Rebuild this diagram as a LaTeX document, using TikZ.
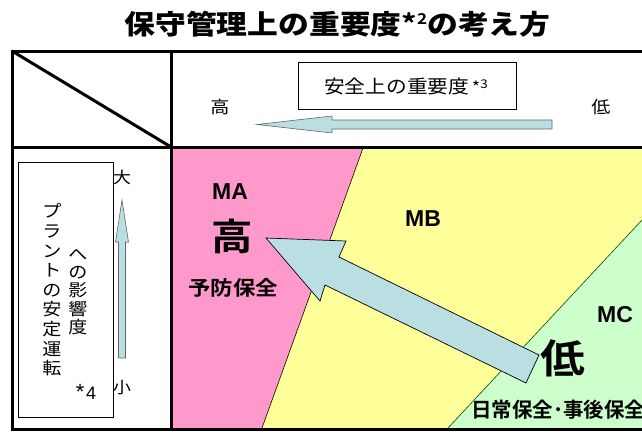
\documentclass[tikz,border=0pt]{standalone}
\usepackage{fontspec}
\setmainfont{Liberation Sans}
\newfontfamily\jp{Noto Sans CJK JP}[FakeStretch=1.12]
\newfontfamily\jpb{Noto Sans CJK JP Bold}[FakeStretch=1.12]
\newfontfamily\jpbn{Noto Sans CJK JP Bold}
\newfontfamily\jpt{Noto Sans CJK JP Black}[FakeStretch=1.14]
\definecolor{pinkfill}{HTML}{FF99CC}
\definecolor{yellowfill}{HTML}{FFFF99}
\definecolor{greenfill}{HTML}{CCFFCC}
\definecolor{arrowfill}{HTML}{B9DFE3}
\tikzset{
  frameline/.style={line width=3pt, line cap=rect},
  lbl/.style={inner sep=0pt, anchor=center},
  bluearrow/.style={fill=arrowfill, draw=gray!80!black, line width=0.6pt, line join=miter},
  bigarrow/.style={fill=arrowfill, draw=black, line width=0.7pt, line join=miter},
}
\begin{document}
\begin{tikzpicture}[x=1pt,y=-1pt]
\useasboundingbox (0,0) rectangle (642,431);
% regions
\fill[pinkfill] (172,148) -- (363,148) -- (262,428) -- (172,428) -- cycle;
\fill[yellowfill] (363,148) -- (642,148) -- (642,220) -- (448,428) -- (262,428) -- cycle;
\fill[greenfill] (642,220) -- (642,428) -- (448,428) -- cycle;
\draw[black, line width=0.6pt] (363,148) -- (262,428);
\draw[black!70!green, line width=0.6pt] (642,220) -- (448,428);
% table frame
\coordinate (tl) at (12,51);
\coordinate (tr) at (642,51);
\coordinate (ml) at (12,147);
\coordinate (mr) at (642,147);
\coordinate (bl) at (12,429);
\coordinate (br) at (642,429);
\coordinate (dt) at (171,51);
\coordinate (dm) at (171,147);
\coordinate (db) at (171,429);
\draw[frameline] (tr) -- (tl) -- (bl) -- (br);
\draw[frameline] (ml) -- (mr);
\draw[frameline] (dt) -- (db);
\draw[line width=3pt] (tl) -- (dm);
% title
\node[lbl] (title) at (337.5,24) {\jpt\fontsize{27}{27}\selectfont 保守管理上の重要度{\bfseries *}\raisebox{0.35em}{\bfseries\fontsize{15}{15}\selectfont 2}の考え方};
% header
\node[draw=black, line width=0.8pt, minimum width=218pt, minimum height=47pt, inner sep=0pt] (hdrbox) at (407,85.5) {};
\node[lbl] (hdr) at (406,86) {\jp\fontsize{18.5}{18.5}\selectfont 安全上の重要度\fontsize{16}{16}\selectfont\,*\raisebox{0.3em}{\fontsize{12}{12}\selectfont 3}};
\node[lbl] (hi) at (220,107) {\jp\fontsize{17}{17}\selectfont 高};
\node[lbl] (lo) at (601,107) {\jp\fontsize{17}{17}\selectfont 低};
\draw[bluearrow] (257,124.5) -- (332,116) -- (332,120) -- (552,120) -- (552,129) -- (332,129) -- (332,133) -- cycle;
% left panel
\node[draw=black, line width=0.7pt, minimum width=95pt, minimum height=255pt, inner sep=0pt] (lbox) at (65.5,289.5) {};
\node[lbl, align=center, font=\jp\fontsize{17}{19.6}\selectfont] (col1) at (52,290) {プ\\ラ\\ン\\ト\\の\\安\\定\\運\\転};
\node[lbl, align=center, font=\jp\fontsize{17}{18.2}\selectfont] (col2) at (78,292) {へ\\の\\影\\響\\度};
\node[lbl] (n4) at (86,392) {{\fontsize{22}{22}\selectfont *}\,{\fontsize{18}{18}\selectfont 4}};
\node[lbl] (big) at (122,177) {\jp\fontsize{16}{16}\selectfont 大};
\node[lbl] (small) at (122,388) {\jp\fontsize{16}{16}\selectfont 小};
\draw[bluearrow] (122,200) -- (128.5,242) -- (125.5,242) -- (125.5,358) -- (118.5,358) -- (118.5,242) -- (115.5,242) -- cycle;
% region labels
\node[lbl] (ma) at (230,192) {\bfseries\fontsize{23}{23}\selectfont MA};
\node[lbl] (mahi) at (232,236) {\jpb\fontsize{37}{37}\selectfont 高};
\node[lbl] (prev) at (233,288) {\jpb\fontsize{20}{20}\selectfont 予防保全};
\node[lbl] (mb) at (423,219) {\bfseries\fontsize{23}{23}\selectfont MB};
\node[lbl] (mc) at (615,315) {\bfseries\fontsize{23}{23}\selectfont MC};
\node[lbl] (mclo) at (563,358) {\jpb\fontsize{40}{40}\selectfont 低};
\begin{scope}
\clip (0,0) rectangle (642,431);
\node[lbl, anchor=west] (daily) at (471,410) {\jpbn\fontsize{20.5}{20.5}\selectfont 日常保全･事後保全};
\end{scope}
% big arrow
\draw[bigarrow] (266,238) -- (346,241) -- (339,257) -- (539,355) -- (526,383) -- (325,285) -- (320,301) -- cycle;
\end{tikzpicture}
\end{document}
